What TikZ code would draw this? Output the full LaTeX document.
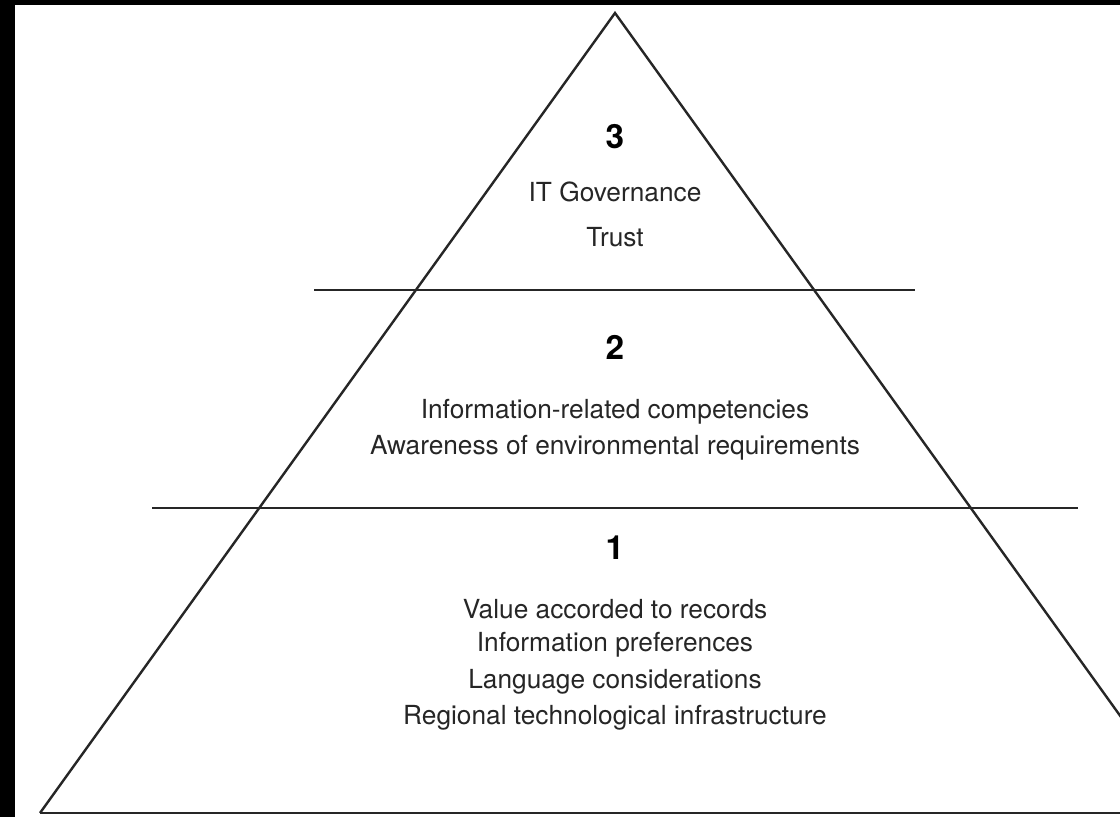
\documentclass[tikz,border=0pt]{standalone}
\usepackage{fontspec}
\setmainfont{TeX Gyre Heros}
\begin{document}
\begin{tikzpicture}[x=0.75pt,y=-0.75pt,
  edge/.style={draw=black!85,line width=1.8pt},
  lbl/.style={text=black!85,font=\fontsize{19.7}{23}\selectfont,inner sep=0pt},
  num/.style={text=black,font=\bfseries\fontsize{25}{28}\selectfont,inner sep=0pt}]
\useasboundingbox (0,0) rectangle (1120,817);
\fill[white] (0,0) rectangle (1120,817);
\fill[black] (0,0) rectangle (15,817);
\fill[black] (0,0) rectangle (1120,5);
\begin{scope}
\clip (15,5) rectangle (1120,817);
\coordinate (apex) at (615,13);
\coordinate (bl) at (40,813);
\coordinate (br) at (1190,813);
\draw[edge,line join=miter] (bl) -- (apex) -- (br);
\coordinate (b0) at (40,813);
\coordinate (b1) at (1125,813);
\draw[edge] (b0) -- (b1);
\coordinate (h1a) at (314,290);
\coordinate (h1b) at (915,290);
\draw[edge] (h1a) -- (h1b);
\coordinate (h2a) at (152,508);
\coordinate (h2b) at (1078,508);
\draw[edge] (h2a) -- (h2b);
\end{scope}
\node[num] (n3) at (615,137) {3};
\node[lbl] (t31) at (615,192) {IT Governance};
\node[lbl] (t32) at (615,237) {Trust};
\node[num] (n2) at (615,347) {2};
\node[lbl] (t21) at (615,412) {Information-related competencies};
\node[lbl] (t22) at (615,448) {Awareness of environmental requirements};
\node[num] (n1) at (615,548) {1};
\node[lbl] (t11) at (615,609) {Value accorded to records};
\node[lbl] (t12) at (615,645) {Information preferences};
\node[lbl] (t13) at (615,682) {Language considerations};
\node[lbl] (t14) at (615,718) {Regional technological infrastructure};
\end{tikzpicture}
\end{document}
